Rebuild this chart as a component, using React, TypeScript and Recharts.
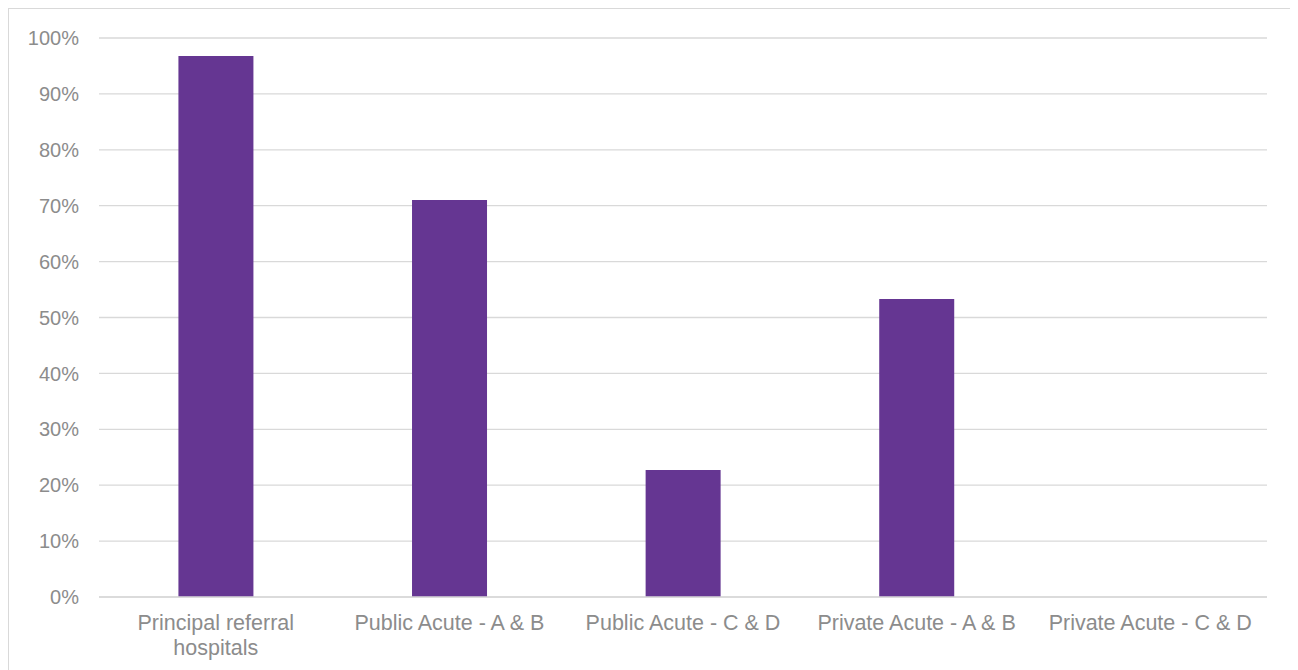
import { Bar, BarChart, CartesianGrid, XAxis, YAxis } from 'recharts';

const categories = [
  'Principal referral hospitals',
  'Public Acute - A & B',
  'Public Acute - C & D',
  'Private Acute - A & B',
  'Private Acute - C & D',
];
const shareValues = [96.8, 71.0, 22.7, 53.3, 0];
const yTicks = [0, 10, 20, 30, 40, 50, 60, 70, 80, 90, 100];

const data = categories.map((name, i) => ({ name, value: shareValues[i] }));

const FONT = '"Liberation Sans", Arial, sans-serif';
const LABEL = '#8c8c8c';
const X_FONT_SIZE = 21.5;

// wrap a label into lines no wider than maxWidth, measured with a canvas
let ctx: CanvasRenderingContext2D | null = null;
function wrapLabel(label: string, maxWidth: number): string[] {
  if (!ctx) {
    ctx = document.createElement('canvas').getContext('2d');
  }
  if (!ctx) return [label];
  ctx.font = `${X_FONT_SIZE}px ${FONT}`;
  const lines: string[] = [];
  let current = '';
  for (const word of label.split(' ')) {
    const next = current ? `${current} ${word}` : word;
    if (current && ctx.measureText(next).width > maxWidth) {
      lines.push(current);
      current = word;
    } else {
      current = next;
    }
  }
  if (current) lines.push(current);
  return lines;
}

function CategoryTick(props: any) {
  const { x, y, payload } = props;
  const lines = wrapLabel(String(payload.value), 218);
  return (
    <text
      x={x}
      y={y + 25}
      textAnchor="middle"
      fontSize={X_FONT_SIZE}
      fontFamily={FONT}
      fill={LABEL}
    >
      {lines.map((line, i) => (
        <tspan key={i} x={x} dy={i === 0 ? 0 : 25}>
          {line}
        </tspan>
      ))}
    </text>
  );
}

export default function App() {
  return (
    <div style={{ width: 1288, height: 680, border: '1px solid #d9d9d9', boxSizing: 'border-box', background: '#fff' }}>
      <BarChart
        width={1286}
        height={678}
        data={data}
        margin={{ top: 29, right: 28, bottom: 0, left: 0 }}
        barCategoryGap="34%"
      >
        <CartesianGrid vertical={false} stroke="#d9d9d9" strokeWidth={1.3} />
        <XAxis
          dataKey="name"
          height={90}
          axisLine={{ stroke: '#d9d9d9', strokeWidth: 1.3 }}
          tickLine={false}
          interval={0}
          tick={<CategoryTick />}
        />
        <YAxis
          width={90}
          domain={[0, 100]}
          ticks={yTicks}
          axisLine={false}
          tickLine={false}
          tickMargin={14}
          tickFormatter={(v: number) => `${v}%`}
          tick={{ fontSize: 20, fontFamily: FONT, fill: LABEL }}
        />
        <Bar dataKey="value" fill="#653692" isAnimationActive={false} />
      </BarChart>
    </div>
  );
}
